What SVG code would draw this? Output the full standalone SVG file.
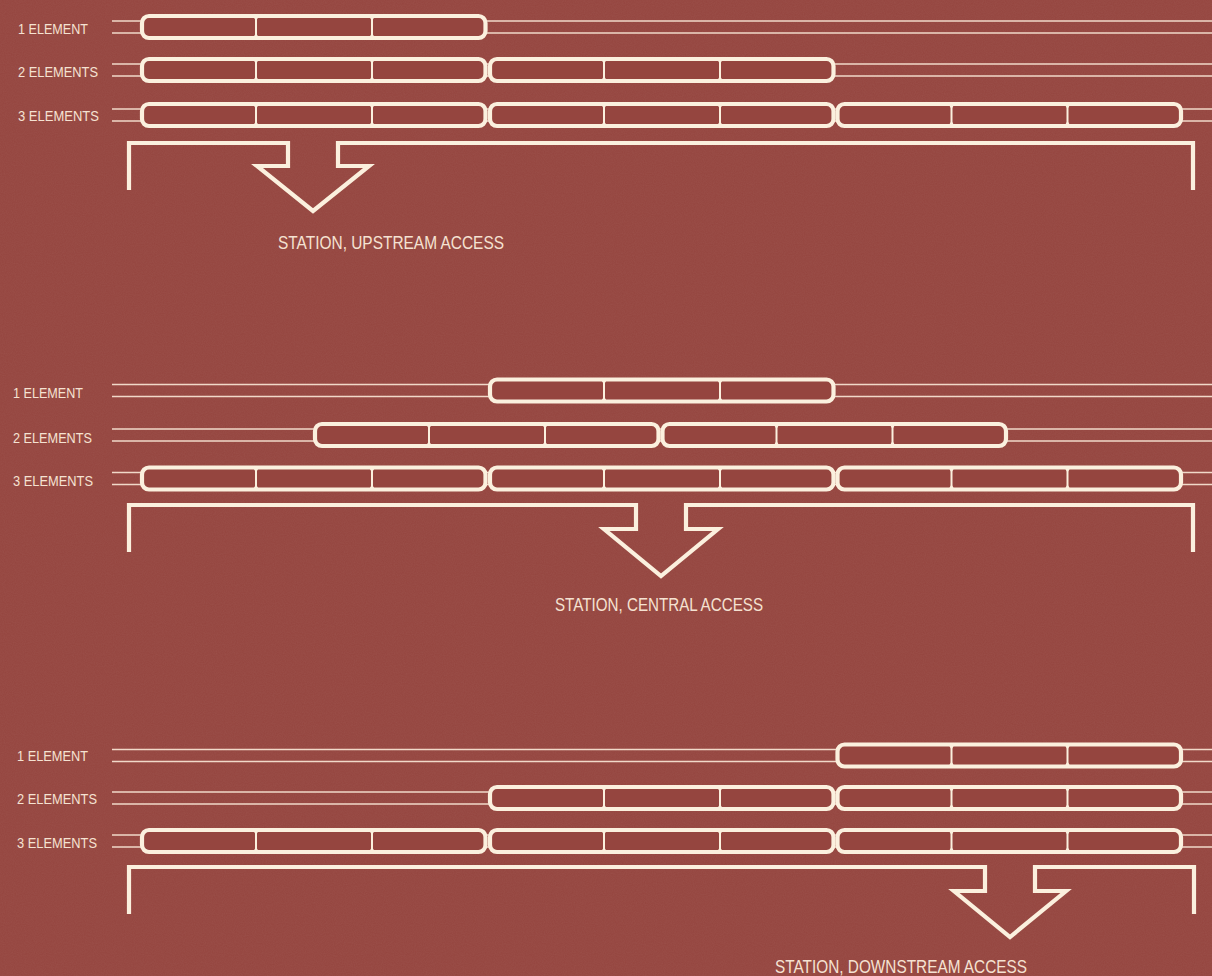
<svg xmlns="http://www.w3.org/2000/svg" xmlns:xlink="http://www.w3.org/1999/xlink" width="1212" height="976" viewBox="0 0 1212 976">
<defs>
<style>
.bg{fill:#95453f}
.rail{stroke:#f1d9c9;stroke-width:1.6;fill:none}
.el{fill:#95453f;stroke:#fbf0de;stroke-width:4.2}
.sep{stroke:#fbf0de;stroke-width:2;fill:none}
.wedge{fill:#fbf0de}
.brk{fill:none;stroke:#fbf0de;stroke-width:4.2;stroke-linejoin:miter}
.lbl{font-family:"Liberation Sans","DejaVu Sans",sans-serif;font-size:15px;fill:#f5e2d2}
.st{font-family:"Liberation Sans","DejaVu Sans",sans-serif;font-size:18.5px;fill:#f5e2d2}
</style>
<g id="sepd">
<path class="sep" d="M0,-11 V11"/>
<path class="wedge" d="M-4,-12.5 L4,-12.5 L0,-6 Z M-4,12.5 L4,12.5 L0,6 Z"/>
</g>
<filter id="grain" x="0" y="0" width="100%" height="100%">
<feTurbulence type="fractalNoise" baseFrequency="0.9" numOctaves="2" seed="3"/>
<feColorMatrix type="matrix" values="0 0 0 0 0.45  0 0 0 0 0.2  0 0 0 0 0.18  0 0 0 0.35 0"/>
</filter>
</defs>
<rect class="bg" x="0" y="0" width="1212" height="976"/>
<rect x="0" y="0" width="1212" height="976" filter="url(#grain)" opacity="0.5"/>

<g id="connectors">
<path class="rail" d="M112,21 H1212 M112,33 H1212 M112,64 H1212 M112,76 H1212 M112,109 H1212 M112,121 H1212"/>
<path class="rail" d="M112,384.5 H1212 M112,396.5 H1212 M112,429 H1212 M112,441 H1212 M112,472.5 H1212 M112,484.5 H1212"/>
<path class="rail" d="M112,749.5 H1212 M112,761.5 H1212 M112,792 H1212 M112,804 H1212 M112,835 H1212 M112,847 H1212"/>
</g>

<g id="s1-row1">
<text class="lbl" x="18" y="33.5" textLength="70" lengthAdjust="spacingAndGlyphs">1 ELEMENT</text>
<rect class="el" x="142" y="16" width="343.5" height="22" rx="7"/>
<use xlink:href="#sepd" x="256" y="27"/><use xlink:href="#sepd" x="372" y="27"/>
</g>
<g id="s1-row2">
<text class="lbl" x="18" y="76.5" textLength="80" lengthAdjust="spacingAndGlyphs">2 ELEMENTS</text>
<rect class="el" x="142" y="59" width="343.5" height="22" rx="7"/>
<rect class="el" x="490" y="59" width="343.5" height="22" rx="7"/>
<use xlink:href="#sepd" x="256" y="70"/><use xlink:href="#sepd" x="372" y="70"/>
<use xlink:href="#sepd" x="604" y="70"/><use xlink:href="#sepd" x="720" y="70"/>
</g>
<g id="s1-row3">
<text class="lbl" x="18" y="120.5" textLength="81" lengthAdjust="spacingAndGlyphs">3 ELEMENTS</text>
<rect class="el" x="142" y="104" width="343.5" height="22" rx="7"/>
<rect class="el" x="490" y="104" width="343.5" height="22" rx="7"/>
<rect class="el" x="837.5" y="104" width="343.5" height="22" rx="7"/>
<use xlink:href="#sepd" x="256" y="115"/><use xlink:href="#sepd" x="372" y="115"/>
<use xlink:href="#sepd" x="604" y="115"/><use xlink:href="#sepd" x="720" y="115"/>
<use xlink:href="#sepd" x="951.5" y="115"/><use xlink:href="#sepd" x="1067.5" y="115"/>
</g>
<g id="s1-station">
<path class="brk" d="M129,190 V143 H288 V166 H257 L313,211 L369,166 H338 V143 H1193 V190"/>
<text class="st" x="278" y="249" textLength="226" lengthAdjust="spacingAndGlyphs">STATION, UPSTREAM ACCESS</text>
</g>

<g id="s2-row1">
<text class="lbl" x="13" y="397.5" textLength="70" lengthAdjust="spacingAndGlyphs">1 ELEMENT</text>
<rect class="el" x="490" y="379.5" width="343.5" height="22" rx="7"/>
<use xlink:href="#sepd" x="604" y="390.5"/><use xlink:href="#sepd" x="720" y="390.5"/>
</g>
<g id="s2-row2">
<text class="lbl" x="13" y="442.5" textLength="79" lengthAdjust="spacingAndGlyphs">2 ELEMENTS</text>
<rect class="el" x="315" y="424" width="343.5" height="22" rx="7"/>
<rect class="el" x="662.5" y="424" width="343.5" height="22" rx="7"/>
<use xlink:href="#sepd" x="429" y="435"/><use xlink:href="#sepd" x="545" y="435"/>
<use xlink:href="#sepd" x="776.5" y="435"/><use xlink:href="#sepd" x="892.5" y="435"/>
</g>
<g id="s2-row3">
<text class="lbl" x="13" y="485.5" textLength="80" lengthAdjust="spacingAndGlyphs">3 ELEMENTS</text>
<rect class="el" x="142" y="467.5" width="343.5" height="22" rx="7"/>
<rect class="el" x="490" y="467.5" width="343.5" height="22" rx="7"/>
<rect class="el" x="837.5" y="467.5" width="343.5" height="22" rx="7"/>
<use xlink:href="#sepd" x="256" y="478.5"/><use xlink:href="#sepd" x="372" y="478.5"/>
<use xlink:href="#sepd" x="604" y="478.5"/><use xlink:href="#sepd" x="720" y="478.5"/>
<use xlink:href="#sepd" x="951.5" y="478.5"/><use xlink:href="#sepd" x="1067.5" y="478.5"/>
</g>
<g id="s2-station">
<path class="brk" d="M129,552 V505 H636 V529 H604 L661,576 L718,529 H686 V505 H1193 V552"/>
<text class="st" x="555" y="611" textLength="208" lengthAdjust="spacingAndGlyphs">STATION, CENTRAL ACCESS</text>
</g>

<g id="s3-row1">
<text class="lbl" x="17" y="760.5" textLength="71" lengthAdjust="spacingAndGlyphs">1 ELEMENT</text>
<rect class="el" x="837.5" y="744.5" width="343.5" height="22" rx="7"/>
<use xlink:href="#sepd" x="951.5" y="755.5"/><use xlink:href="#sepd" x="1067.5" y="755.5"/>
</g>
<g id="s3-row2">
<text class="lbl" x="17" y="803.5" textLength="80" lengthAdjust="spacingAndGlyphs">2 ELEMENTS</text>
<rect class="el" x="490" y="787" width="343.5" height="22" rx="7"/>
<rect class="el" x="837.5" y="787" width="343.5" height="22" rx="7"/>
<use xlink:href="#sepd" x="604" y="798"/><use xlink:href="#sepd" x="720" y="798"/>
<use xlink:href="#sepd" x="951.5" y="798"/><use xlink:href="#sepd" x="1067.5" y="798"/>
</g>
<g id="s3-row3">
<text class="lbl" x="17" y="847.5" textLength="80" lengthAdjust="spacingAndGlyphs">3 ELEMENTS</text>
<rect class="el" x="142" y="830" width="343.5" height="22" rx="7"/>
<rect class="el" x="490" y="830" width="343.5" height="22" rx="7"/>
<rect class="el" x="837.5" y="830" width="343.5" height="22" rx="7"/>
<use xlink:href="#sepd" x="256" y="841"/><use xlink:href="#sepd" x="372" y="841"/>
<use xlink:href="#sepd" x="604" y="841"/><use xlink:href="#sepd" x="720" y="841"/>
<use xlink:href="#sepd" x="951.5" y="841"/><use xlink:href="#sepd" x="1067.5" y="841"/>
</g>
<g id="s3-station">
<path class="brk" d="M129,914 V867 H985 V891 H954 L1010,937 L1066,891 H1035 V867 H1194 V914"/>
<text class="st" x="775" y="973" textLength="252" lengthAdjust="spacingAndGlyphs">STATION, DOWNSTREAM ACCESS</text>
</g>
</svg>
